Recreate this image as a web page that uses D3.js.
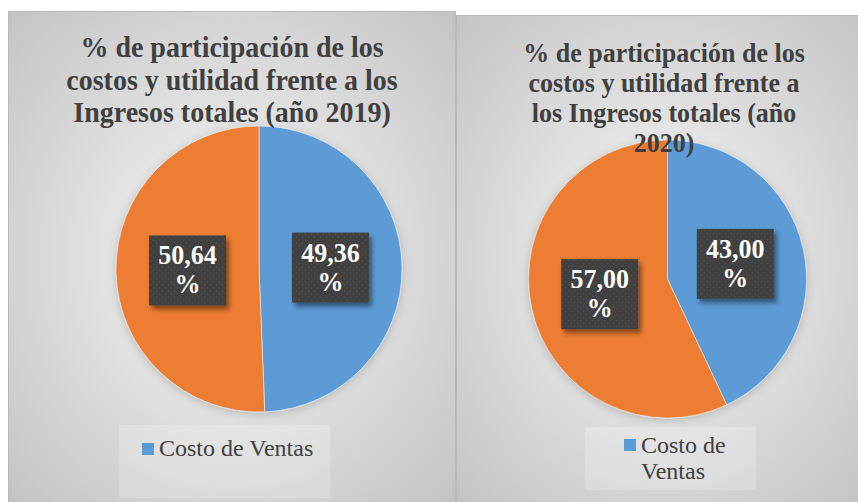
<!DOCTYPE html>
<meta charset="utf-8">
<style>
body{ margin:0; background:#fff; }
svg{ display:block; }
text{ font-family:"Liberation Serif","Times New Roman",serif; }
</style>
<body>
<script src="https://d3js.org/d3.v7.min.js"></script>
<script>
// data
var years = ["2019", "2020"];
var categories = ["Costo de Ventas", "Utilidad"];
var values2019 = [49.36, 50.64];
var values2020 = [43.00, 57.00];
var titles2019 = ["% de participación de los", "costos y utilidad frente a los", "Ingresos totales (año 2019)"];
var titles2020 = ["% de participación de los", "costos y utilidad frente a", "los Ingresos totales (año", "2020)"];
var legend2019 = ["Costo de Ventas"];
var legend2020 = ["Costo de", "Ventas"];

var colors = ["#5b9bd5", "#ed7d31"];
var w = 858, h = 502;

var es = d3.formatLocale({decimal: ",", thousands: ".", grouping: [3], currency: ["", ""]});
var fmt = es.format(".2f");

var svg = d3.select("body").append("svg")
  .attr("width", w)
  .attr("height", h);

var defs = svg.append("defs");

var grad = defs.append("radialGradient")
  .attr("id", "bg")
  .attr("cx", "50%").attr("cy", "50%").attr("r", "70%");
grad.append("stop").attr("offset", "0%").attr("stop-color", "#f7f7f7");
grad.append("stop").attr("offset", "100%").attr("stop-color", "#c4c4c4");

var pat = defs.append("pattern")
  .attr("id", "dots")
  .attr("width", 6).attr("height", 6)
  .attr("patternUnits", "userSpaceOnUse");
pat.append("rect").attr("width", 6).attr("height", 6).attr("fill", "#404040");
pat.append("circle").attr("cx", 1.5).attr("cy", 1.5).attr("r", 0.8).attr("fill", "#525252");
pat.append("circle").attr("cx", 4.5).attr("cy", 4.5).attr("r", 0.8).attr("fill", "#525252");

var sh = defs.append("filter").attr("id", "boxShadow")
  .attr("x", "-20%").attr("y", "-20%").attr("width", "150%").attr("height", "150%");
sh.append("feDropShadow").attr("dx", 3).attr("dy", 4).attr("stdDeviation", 2.5)
  .attr("flood-color", "#000").attr("flood-opacity", 0.45);

var psh = defs.append("filter").attr("id", "pieShadow")
  .attr("x", "-20%").attr("y", "-20%").attr("width", "140%").attr("height", "140%");
psh.append("feDropShadow").attr("dx", 0).attr("dy", 2).attr("stdDeviation", 5)
  .attr("flood-color", "#000").attr("flood-opacity", 0.18);

var panels = [
  {year: years[0], values: values2019, title: titles2019, legend: legend2019,
   x: 8, y: 11, pw: 447, ph: 491, cx: 259, cy: 269, r: 143,
   tx: 232, ty: 57, ts: 28, tl: 32.5,
   lg: {x: 119, y: 425, w: 211, h: 73, mx: 142, my: 443, tx: 159, ty: 456, lh: 26}},
  {year: years[1], values: values2020, title: titles2020, legend: legend2020,
   x: 456, y: 15, pw: 410, ph: 487, cx: 667.5, cy: 279, r: 139,
   tx: 664, ty: 62, ts: 26, tl: 30,
   lg: {x: 585, y: 427, w: 171, h: 63, mx: 624, my: 439, tx: 641, ty: 453, lh: 26}}
];

var pie = d3.pie().sort(null).value(function(d) { return d; });

panels.forEach(function(p) {
  var g = svg.append("g");

  g.append("rect")
    .attr("x", p.x + 0.5).attr("y", p.y + 0.5)
    .attr("width", p.pw).attr("height", p.ph)
    .attr("fill", "url(#bg)")
    .attr("stroke", "#b8b8b8");

  var arc = d3.arc().innerRadius(0).outerRadius(p.r);
  var arcs = pie(p.values);

  var pg = g.append("g")
    .attr("transform", "translate(" + p.cx + "," + p.cy + ")");

  pg.append("g").attr("filter", "url(#pieShadow)")
    .selectAll("path")
    .data(arcs)
    .enter().append("path")
    .attr("d", arc)
    .attr("fill", function(d, i) { return colors[i]; })
    .attr("stroke", "#f0f0f0")
    .attr("stroke-width", 0.6);

  // data labels
  var bw = 77, bh = 70;
  var lab = pg.selectAll(".lab")
    .data(arcs)
    .enter().append("g")
    .attr("class", "lab")
    .attr("transform", function(d) {
      var c = arc.centroid(d);
      return "translate(" + (c[0] - bw / 2) + "," + (c[1] - bh / 2) + ")";
    });
  lab.append("rect")
    .attr("width", bw).attr("height", bh)
    .attr("fill", "url(#dots)")
    .attr("filter", "url(#boxShadow)");
  lab.append("text")
    .attr("transform", "translate(" + (bw / 2) + ",29) scale(1,1.05)")
    .attr("text-anchor", "middle")
    .attr("fill", "#fff")
    .style("font-size", "26px")
    .style("font-weight", "bold")
    .text(function(d) { return fmt(d.data); });
  lab.append("text")
    .attr("transform", "translate(" + (bw / 2) + ",58) scale(1,1.05)")
    .attr("text-anchor", "middle")
    .attr("fill", "#fff")
    .style("font-size", "26px")
    .style("font-weight", "bold")
    .text("%");

  // title
  g.selectAll(".title")
    .data(p.title)
    .enter().append("text")
    .attr("class", "title")
    .attr("transform", function(d, i) {
      return "translate(" + p.tx + "," + (p.ty + i * p.tl) + ") scale(1,1.08)";
    })
    .attr("text-anchor", "middle")
    .attr("fill", "#404040")
    .style("font-size", p.ts + "px")
    .style("font-weight", "bold")
    .text(function(d) { return d; });

  // legend
  var lg = p.lg;
  g.append("rect")
    .attr("x", lg.x).attr("y", lg.y)
    .attr("width", lg.w).attr("height", lg.h)
    .attr("fill", "#fff").attr("fill-opacity", 0.2);
  g.append("rect")
    .attr("x", lg.mx).attr("y", lg.my)
    .attr("width", 12).attr("height", 12)
    .attr("fill", colors[0]);
  g.append("text")
    .attr("fill", "#404040")
    .style("font-size", "24px")
    .selectAll("tspan")
    .data(p.legend)
    .enter().append("tspan")
    .attr("x", lg.tx)
    .attr("y", function(d, i) { return lg.ty + i * lg.lh; })
    .text(function(d) { return d; });
});
</script>
</body>
